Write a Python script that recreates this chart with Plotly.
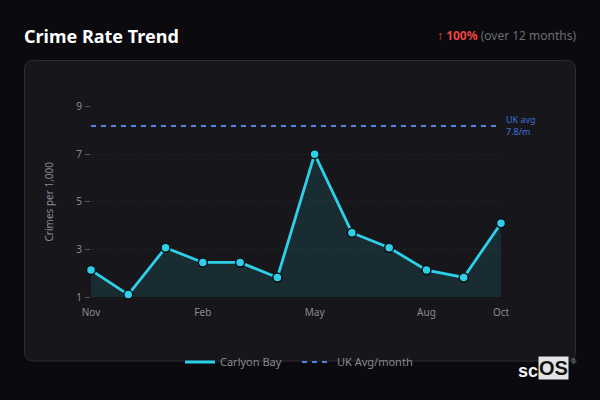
import plotly.graph_objects as go

months = ["Nov", "Dec", "Jan", "Feb", "Mar", "Apr", "May", "Jun", "Jul", "Aug", "Sep", "Oct"]
carlyon_bay = [2.13, 1.1, 3.07, 2.45, 2.45, 1.82, 7.0, 3.7, 3.07, 2.13, 1.82, 4.1]
uk_avg = [8.18] * 12
x_tick_labels = ["Nov", "Feb", "May", "Aug", "Oct"]
y_ticks = [1, 3, 5, 7, 9]

W, H = 600, 400
L, R, T, B = 91, 501, 106.5, 297


def px(v):
    return v / W


def py(v):
    return 1 - v / H


def panel_path(x0, y0, x1, y1, r):
    return (
        f"M {px(x0 + r)} {py(y0)} L {px(x1 - r)} {py(y0)} Q {px(x1)} {py(y0)} {px(x1)} {py(y0 + r)} "
        f"L {px(x1)} {py(y1 - r)} Q {px(x1)} {py(y1)} {px(x1 - r)} {py(y1)} "
        f"L {px(x0 + r)} {py(y1)} Q {px(x0)} {py(y1)} {px(x0)} {py(y1 - r)} "
        f"L {px(x0)} {py(y0 + r)} Q {px(x0)} {py(y0)} {px(x0 + r)} {py(y0)} Z"
    )


fig = go.Figure()
fig.add_trace(go.Scatter(
    x=months, y=carlyon_bay, mode="none", showlegend=False, hoverinfo="skip",
    fill="tozeroy", fillcolor="rgba(34,211,238,0.115)",
))
fig.add_trace(go.Scatter(
    x=months, y=carlyon_bay, name="Carlyon Bay", mode="lines",
    line=dict(color="#2dd0e8", width=2.8),
))
fig.add_trace(go.Scatter(
    x=months, y=uk_avg, name="UK Avg/month", mode="lines",
    line=dict(color="#5585dc", width=2, dash="5px,5px"),
))
fig.add_trace(go.Scatter(
    x=months, y=carlyon_bay, mode="markers", showlegend=False, hoverinfo="skip",
    marker=dict(size=9, color="#2dd0e8", line=dict(color="#0a0e13", width=1.5)),
    cliponaxis=False,
))


def note(x, y, text, **kw):
    kw.setdefault("xanchor", "left")
    kw.setdefault("yanchor", "middle")
    fig.add_annotation(xref="paper", yref="paper", x=px(x), y=py(y), text=text,
                       showarrow=False, borderpad=0, **kw)


note(22.5, 36, "<b>Crime Rate Trend</b>", font=dict(size=18, color="#ffffff", family="Noto Sans"))
note(576.5, 36, '<span style="color:#ef4444">↑ <b>100%</b></span> (over 12 months)',
     xanchor="right", font=dict(size=12, color="#6b6d72", family="Noto Sans"))
note(505, 125.5, "UK avg<br>7.8/m", align="left", font=dict(size=9, color="#3f6fd8", family="Noto Sans"))
note(517, 371, "<b>sc</b>", font=dict(size=18, color="#f2f2f2", family="Liberation Sans"))
note(537.5, 368, "<b>OS</b>", bgcolor="#e4e4e4", font=dict(size=20, color="#111111", family="Liberation Sans"))
note(569.5, 361, "®", font=dict(size=7, color="#aaaaaa", family="Liberation Sans"))

fig.update_layout(
    width=W, height=H, autosize=False,
    margin=dict(l=0, r=0, t=0, b=0, autoexpand=False),
    paper_bgcolor="#0a0a0f", plot_bgcolor="rgba(0,0,0,0)",
    font=dict(family="Noto Sans", size=10, color="#8a8b8f"),
    showlegend=True,
    legend=dict(orientation="h", x=px(180), xanchor="left", y=py(362), yanchor="middle",
                bgcolor="rgba(0,0,0,0)", font=dict(size=11, color="#8a8b8f"),
                itemwidth=30, entrywidth=72, entrywidthmode="pixels", tracegroupgap=0),
    shapes=[dict(type="path", xref="paper", yref="paper", layer="below",
                 path=panel_path(24.5, 60.5, 575.5, 361, 9),
                 fillcolor="#17171b", line=dict(color="#2c2c31", width=1))],
    xaxis=dict(domain=[px(L), px(R)], type="category", categoryorder="array", categoryarray=months,
               range=[0, 11], showgrid=False, zeroline=False, showline=False, ticks="",
               tickvals=x_tick_labels, ticktext=x_tick_labels, ticklabelstandoff=8,
               tickfont=dict(size=10, color="#8a8b8f")),
    yaxis=dict(domain=[py(B), py(T)], range=[1, 9], tickvals=y_ticks, zeroline=False,
               showline=False, ticks="outside", ticklen=5, tickwidth=1, tickcolor="#55565b",
               ticklabelstandoff=1, gridcolor="#232327", griddash="dot", gridwidth=1,
               tickfont=dict(size=10, color="#8a8b8f"),
               title=dict(text="Crimes per 1,000", font=dict(size=10, color="#8a8b8f"), standoff=20)),
)
fig.write_html("out.html", config={"displayModeBar": False},
               post_script="document.body.style.margin='0';")
